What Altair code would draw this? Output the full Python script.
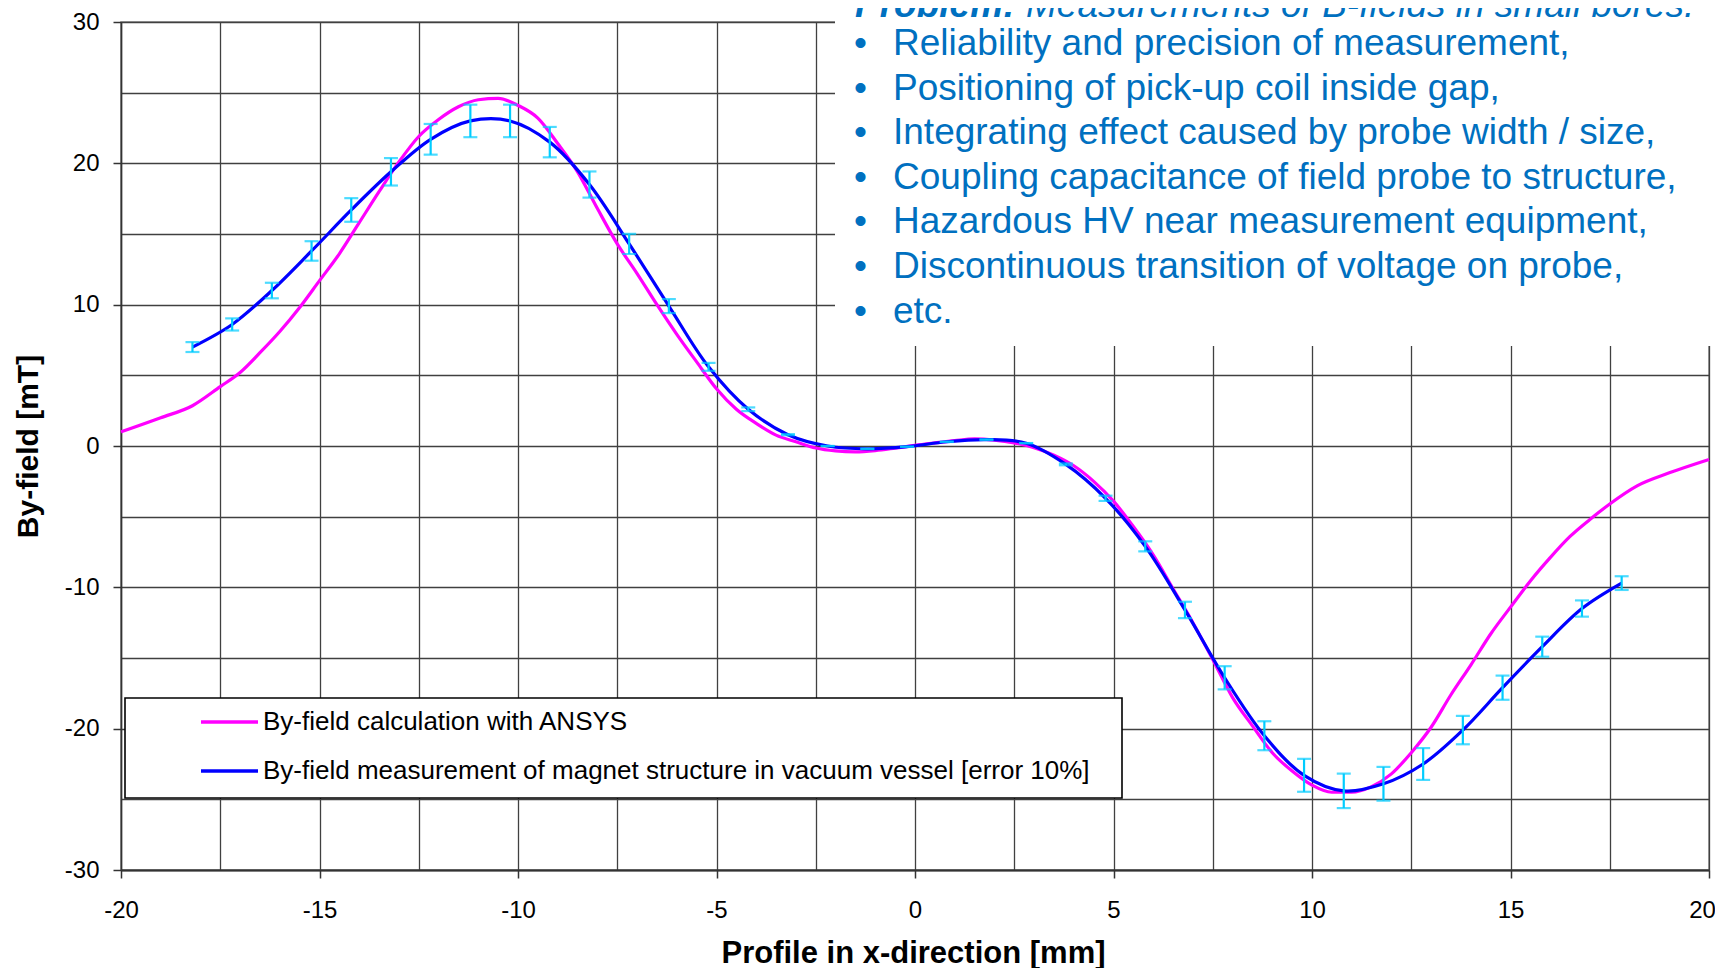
import altair as alt
import pandas as pd

# ---------------- data ----------------
MEAS_X = [-18.2, -17.2, -16.2, -15.2, -14.2, -13.2, -12.2, -11.2, -10.2, -9.2,
          -8.2, -7.2, -6.2, -5.2, -4.2, -3.2, -2.2, -1.2, -0.2, 0.8,
          1.8, 2.8, 3.8, 4.8, 5.8, 6.8, 7.8, 8.8, 9.8, 10.8,
          11.8, 12.8, 13.8, 14.8, 15.8, 16.8, 17.8]
MEAS_Y = [7.0, 8.6, 11.0, 13.8, 16.7, 19.4, 21.7, 23.0, 23.0, 21.5,
          18.5, 14.3, 9.9, 5.6, 2.6, 0.8, 0.0, -0.2, -0.05, 0.3,
          0.45, 0.2, -1.3, -3.7, -7.1, -11.6, -16.4, -20.5, -23.3, -24.4,
          -23.9, -22.5, -20.1, -17.1, -14.2, -11.5, -9.7]
ERROR_SPAN = 0.10  # "[error 10%]": total length of each error bar relative to |By|

ANSYS_X = [-20, -19, -18.2, -17.5, -17, -16.5, -16, -15.5, -15, -14.5,
           -14, -13.5, -13, -12.5, -12, -11.5, -11, -10.5, -10, -9.5,
           -9, -8.5, -8, -7.5, -7, -6.5, -6, -5.5, -5, -4.5,
           -4, -3.5, -3, -2.5, -2, -1.5, -1, -0.5, 0, 0.5,
           1, 1.5, 2, 2.5, 3, 3.5, 4, 4.5, 5, 5.5,
           6, 6.5, 7, 7.5, 8, 8.5, 9, 9.5, 10, 10.5,
           11, 11.5, 12, 12.5, 13, 13.5, 14, 14.5, 15, 15.5,
           16, 16.5, 17, 17.5, 18.2, 19, 20]
ANSYS_Y = [1.0, 2.0, 2.85, 4.2, 5.2, 6.6, 8.1, 9.8, 11.7, 13.6,
           15.8, 18.0, 20.1, 21.9, 23.1, 24.0, 24.5, 24.6, 24.1, 23.2,
           21.4, 19.4, 16.8, 14.3, 12.2, 10.0, 7.9, 5.95, 4.05, 2.6,
           1.6, 0.77, 0.3, -0.14, -0.35, -0.42, -0.33, -0.15, 0.05, 0.22,
           0.38, 0.5, 0.42, 0.22, -0.12, -0.65, -1.4, -2.5, -3.9, -5.7,
           -7.7, -10.1, -12.5, -15.1, -17.8, -19.8, -21.7, -23.0, -24.0, -24.5,
           -24.5, -24.1, -23.2, -21.7, -19.9, -17.6, -15.5, -13.3, -11.4, -9.55,
           -7.9, -6.4, -5.2, -4.1, -2.8, -1.9, -0.95]

X_GRID = [-20, -17.5, -15, -12.5, -10, -7.5, -5, -2.5, 0, 2.5, 5, 7.5, 10, 12.5, 15, 17.5, 20]
Y_GRID = [-30, -25, -20, -15, -10, -5, 0, 5, 10, 15, 20, 25, 30]

X_TITLE = "Profile in x-direction [mm]"
Y_TITLE = "By-field [mT]"
LEGEND_LABELS = ["By-field calculation with ANSYS",
                 "By-field measurement of magnet structure in vacuum vessel [error 10%]"]
PROBLEM_HEAD = "Problem:"
PROBLEM_TEXT = "Measurements of B-fields in small bores."
BULLETS = ["Reliability and precision of measurement,",
           "Positioning of pick-up coil inside gap,",
           "Integrating effect caused by probe width / size,",
           "Coupling capacitance of field probe to structure,",
           "Hazardous HV near measurement equipment,",
           "Discontinuous transition of voltage on probe,",
           "etc."]

# ---------------- tables ----------------
meas = pd.DataFrame({"x": MEAS_X, "y": MEAS_Y})
meas["lo"] = meas["y"] - meas["y"].abs() * ERROR_SPAN / 2
meas["hi"] = meas["y"] + meas["y"].abs() * ERROR_SPAN / 2
ansys = pd.DataFrame({"x": ANSYS_X, "y": ANSYS_Y})

FONT = "Liberation Sans, Arial, sans-serif"
MAGENTA = "#FF00FF"
BLUE = "#0000FF"
CYAN = "#00CCFF"
TEXT_BLUE = "#0070C0"

xs = alt.Scale(domain=[-20, 20], nice=False, zero=False)
ys = alt.Scale(domain=[-30, 30], nice=False, zero=False)

x_axis = alt.Axis(
    values=X_GRID, title=X_TITLE,
    labelExpr="datum.value % 5 === 0 ? '' + datum.value : ''",
    tickOpacity={"condition": {"test": "datum.value % 5 !== 0", "value": 0}, "value": 1},
    labelOffset={"condition": {"test": "datum.value === 20", "value": -7}, "value": 0},
    labelPadding=20, tickSize=8,
    titleX=792, titleY=92, titleBaseline="alphabetic", titleAlign="center",
    titleFontSize=31, domainWidth=2,
)
y_axis = alt.Axis(
    values=Y_GRID, title=Y_TITLE,
    labelExpr="datum.value % 10 === 0 ? '' + datum.value : ''",
    tickOpacity={"condition": {"test": "datum.value % 10 !== 0", "value": 0}, "value": 1},
    labelPadding=14, tickSize=8,
    titleX=-84, titleY=424, titleAngle=270, titleBaseline="alphabetic",
    titleAlign="center", titleFontSize=30,
)


def X(field="x"):
    return alt.X(f"{field}:Q", scale=xs, axis=x_axis, title=X_TITLE)


def Y(field="y"):
    return alt.Y(f"{field}:Q", scale=ys, axis=y_axis, title=Y_TITLE)


calc_line = alt.Chart(ansys).mark_line(
    color=MAGENTA, strokeWidth=3.2, interpolate="monotone"
).encode(x=X(), y=Y(), order="x:Q")

meas_line = alt.Chart(meas).mark_line(
    color=BLUE, strokeWidth=3.2, interpolate="catmull-rom"
).encode(x=X(), y=Y(), order="x:Q")

err_rule = alt.Chart(meas).mark_rule(color=CYAN, strokeWidth=2.2).encode(
    x=X(), y=Y("lo"), y2="hi:Q"
)
err_lo = alt.Chart(meas).mark_tick(
    color=CYAN, orient="horizontal", size=14, thickness=2.2
).encode(x=X(), y=Y("lo"))
err_hi = alt.Chart(meas).mark_tick(
    color=CYAN, orient="horizontal", size=14, thickness=2.2
).encode(x=X(), y=Y("hi"))

one = alt.Data(values=[{"k": 0}])

# text block in the upper right (covers the grid)
box = alt.Chart(one).mark_rect(fill="white", stroke=None).encode(
    x=alt.value(714), x2=alt.value(1620), y=alt.value(-40), y2=alt.value(324)
)
head = alt.Chart(one).mark_text(
    align="left", baseline="alphabetic", font=FONT, fontSize=37,
    fontWeight="bold", fontStyle="italic", color=TEXT_BLUE
).encode(x=alt.value(734), y=alt.value(-5), text=alt.value(PROBLEM_HEAD))
head2 = alt.Chart(one).mark_text(
    align="left", baseline="alphabetic", font=FONT, fontSize=37,
    fontStyle="italic", color=TEXT_BLUE
).encode(x=alt.value(905), y=alt.value(-5), text=alt.value(PROBLEM_TEXT))
bullets = alt.Chart(one).mark_text(
    align="left", baseline="alphabetic", font=FONT, fontSize=37,
    color=TEXT_BLUE, lineBreak="\n", lineHeight=44.6
).encode(x=alt.value(733), y=alt.value(33), text=alt.value("\n".join("\u2022" for _ in BULLETS)))
lines = alt.Chart(one).mark_text(
    align="left", baseline="alphabetic", font=FONT, fontSize=37,
    color=TEXT_BLUE, lineBreak="\n", lineHeight=44.6
).encode(x=alt.value(772), y=alt.value(33), text=alt.value("\n".join(BULLETS)))

# legend
leg_box = alt.Chart(one).mark_rect(fill="white", stroke="black", strokeWidth=1.6).encode(
    x=alt.value(4), x2=alt.value(1001), y=alt.value(676), y2=alt.value(776)
)
leg_sym1 = alt.Chart(one).mark_rule(color=MAGENTA, strokeWidth=3.5).encode(
    x=alt.value(80), x2=alt.value(137), y=alt.value(700)
)
leg_sym2 = alt.Chart(one).mark_rule(color=BLUE, strokeWidth=3.5).encode(
    x=alt.value(80), x2=alt.value(137), y=alt.value(749)
)
leg_txt1 = alt.Chart(one).mark_text(
    align="left", baseline="middle", font=FONT, fontSize=26, color="black"
).encode(x=alt.value(142), y=alt.value(700), text=alt.value(LEGEND_LABELS[0]))
leg_txt2 = alt.Chart(one).mark_text(
    align="left", baseline="middle", font=FONT, fontSize=26, color="black"
).encode(x=alt.value(142), y=alt.value(749), text=alt.value(LEGEND_LABELS[1]))

chart = alt.layer(
    calc_line, meas_line, err_rule, err_lo, err_hi,
    box, head, head2, bullets, lines,
    leg_box, leg_sym1, leg_sym2, leg_txt1, leg_txt2,
).properties(
    width=1588, height=848,
    autosize=alt.AutoSizeParams(type="none"),
    padding={"left": 113, "top": 14, "right": 6, "bottom": 98},
    background="white",
).configure_view(
    stroke="#808080", strokeWidth=1.5
).configure_axis(
    labelFont=FONT, labelFontSize=24, labelColor="black",
    titleFont=FONT, titleFontWeight="bold", titleColor="black",
    tickColor="#333333", tickWidth=1.5,
    domainColor="#333333", domainWidth=1.5,
    gridColor="#404040", gridWidth=1.3, gridOpacity=1,
    labelOverlap=False, labelFlush=False, labelBound=False,
)

chart.save("out.html", embed_options={"renderer": "svg", "actions": False})
